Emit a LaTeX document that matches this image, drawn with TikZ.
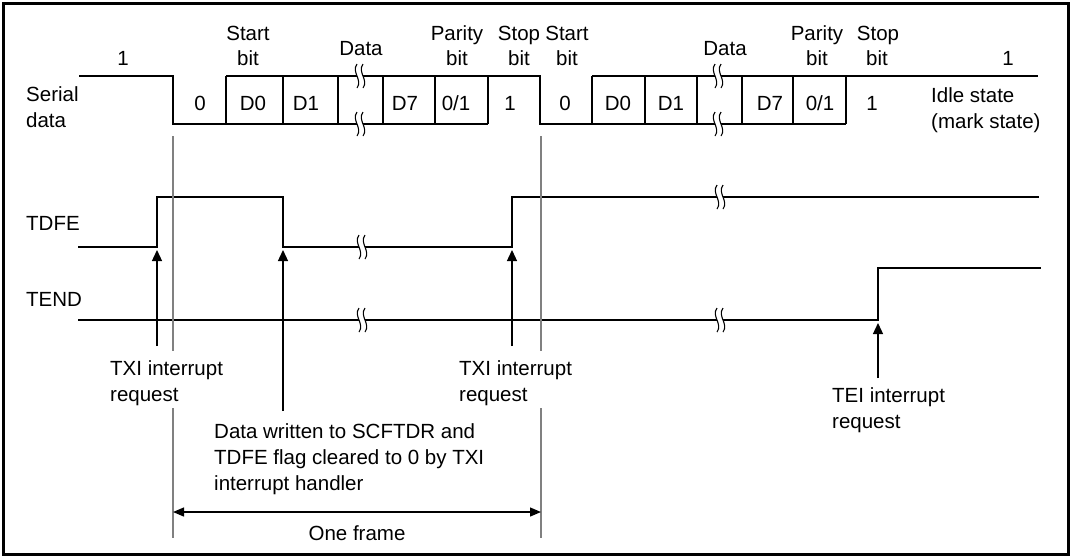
\documentclass[tikz,border=0pt]{standalone}
\usepackage{fontspec}
\setmainfont{Liberation Sans}
\usetikzlibrary{arrows.meta}
\definecolor{guidegray}{RGB}{128,128,128}
\newcommand\brkmark[2]{%
  \fill[white] (#1-3,#2-12) .. controls (#1-9,#2-4) and (#1+3,#2+4) .. (#1-3,#2+12)
     -- (#1+3,#2+12) .. controls (#1+9,#2+4) and (#1-3,#2-4) .. (#1+3,#2-12) -- cycle;
  \draw[line width=1.1pt] (#1-3,#2-12) .. controls (#1-9,#2-4) and (#1+3,#2+4) .. (#1-3,#2+12);
  \draw[line width=1.1pt] (#1+3,#2-12) .. controls (#1-3,#2-4) and (#1+9,#2+4) .. (#1+3,#2+12);
}
\begin{document}
\begin{tikzpicture}[x=1pt,y=-1pt,
  lbl/.style={inner sep=0pt, anchor=base, font=\fontsize{20.5}{24}\selectfont},
  lblw/.style={lbl, anchor=base west},
  sig/.style={line width=2pt, line join=miter},
  boxl/.style={line width=1.8pt},
  guide/.style={line width=1.8pt, draw=guidegray},
  req/.style={line width=1.3pt, -{Triangle[width=10pt,length=11pt]}},
  span/.style={line width=1.3pt, {Triangle[width=9pt,length=11pt]}-{Triangle[width=9pt,length=11pt]}}]
\useasboundingbox (0,0) rectangle (1074,558);
\draw[line width=3pt] (3.5,3.5) rectangle (1068.5,554.5);

% serial data
\draw[sig] (79,76) -- (173,76) -- (173,124) -- (488,124);
\draw[sig] (226,76) -- (540,76) -- (540,124) -- (846,124);
\draw[sig] (592,76) -- (1038,76);
\foreach \x in {226,283,338,383,435,488,592,645,697,742,793,846}
  \draw[boxl] (\x,76) -- (\x,124);
\brkmark{360}{76}\brkmark{360}{124}\brkmark{718}{76}\brkmark{718}{124}

% TDFE / TEND
\draw[sig] (78,247) -- (157,247) -- (157,197) -- (283,197) -- (283,247) -- (512,247) -- (512,197) -- (1039,197);
\draw[sig] (78,320) -- (878,320) -- (878,268) -- (1041,268);
\brkmark{362}{247}\brkmark{720}{197}\brkmark{362}{320}\brkmark{720}{320}

% guide lines
\coordinate (g1a) at (173,136); \coordinate (g1b) at (173,351);
\coordinate (g1c) at (173,408); \coordinate (g1d) at (173,538);
\coordinate (g2a) at (541,136); \coordinate (g2b) at (541,351);
\coordinate (g2c) at (541,408); \coordinate (g2d) at (541,538);
\draw[guide] (g1a) -- (g1b); \draw[guide] (g1c) -- (g1d);
\draw[guide] (g2a) -- (g2b); \draw[guide] (g2c) -- (g2d);

% request arrows
\coordinate (a1s) at (157,346); \coordinate (a1e) at (157,250);
\coordinate (a2s) at (283,411); \coordinate (a2e) at (283,250);
\coordinate (a3s) at (512,346); \coordinate (a3e) at (512,250);
\coordinate (a4s) at (878,378); \coordinate (a4e) at (878,323);
\draw[req] (a1s) -- (a1e);
\draw[req] (a2s) -- (a2e);
\draw[req] (a3s) -- (a3e);
\draw[req] (a4s) -- (a4e);
\coordinate (fl) at (173,512); \coordinate (fr) at (541,512);
\draw[span] (fl) -- (fr);

% top labels
\node[lbl] (one1) at (123,65) {1};
\node[lbl] (st1a) at (248,40) {Start};
\node[lbl] (st1b) at (248,65) {bit};
\node[lbl] (da1) at (361,55) {Data};
\node[lbl] (pa1a) at (457,40) {Parity};
\node[lbl] (pa1b) at (457,65) {bit};
\node[lbl] (sp1a) at (519,40) {Stop};
\node[lbl] (sp1b) at (519,65) {bit};
\node[lbl] (st2a) at (567,40) {Start};
\node[lbl] (st2b) at (567,65) {bit};
\node[lbl] (da2) at (725,55) {Data};
\node[lbl] (pa2a) at (817,40) {Parity};
\node[lbl] (pa2b) at (817,65) {bit};
\node[lbl] (sp2a) at (878,40) {Stop};
\node[lbl] (sp2b) at (877,65) {bit};
\node[lbl] (one2) at (1008,65) {1};

% bit labels
\node[lbl] (b0a) at (200,110) {0};
\node[lbl] (bd0a) at (253,110) {D0};
\node[lbl] (bd1a) at (306,110) {D1};
\node[lbl] (bd7a) at (405,110) {D7};
\node[lbl] (bpa) at (456,110) {0/1};
\node[lbl] (bsa) at (510,110) {1};
\node[lbl] (b0b) at (565,110) {0};
\node[lbl] (bd0b) at (618,110) {D0};
\node[lbl] (bd1b) at (671,110) {D1};
\node[lbl] (bd7b) at (770,110) {D7};
\node[lbl] (bpb) at (820,110) {0/1};
\node[lbl] (bsb) at (872,110) {1};

% side labels
\node[lblw] (ser1) at (26,101) {Serial};
\node[lblw] (ser2) at (26,127) {data};
\node[lblw] (idl1) at (931,102) {Idle state};
\node[lblw] (idl2) at (931,128) {(mark state)};
\node[lblw] (tdfe) at (26,230) {TDFE};
\node[lblw] (tend) at (26,306) {TEND};

% bottom labels
\node[lblw] (txa1) at (110,375) {TXI interrupt};
\node[lblw] (txa2) at (110,401) {request};
\node[lblw] (txb1) at (459,375) {TXI interrupt};
\node[lblw] (txb2) at (459,401) {request};
\node[lblw] (tei1) at (832,402) {TEI interrupt};
\node[lblw] (tei2) at (832,428) {request};
\node[lblw] (dw1) at (214,438) {Data written to SCFTDR and};
\node[lblw] (dw2) at (214,464) {TDFE flag cleared to 0 by TXI};
\node[lblw] (dw3) at (214,490) {interrupt handler};
\node[lbl] (fr1) at (357,540) {One frame};
\end{tikzpicture}
\end{document}
